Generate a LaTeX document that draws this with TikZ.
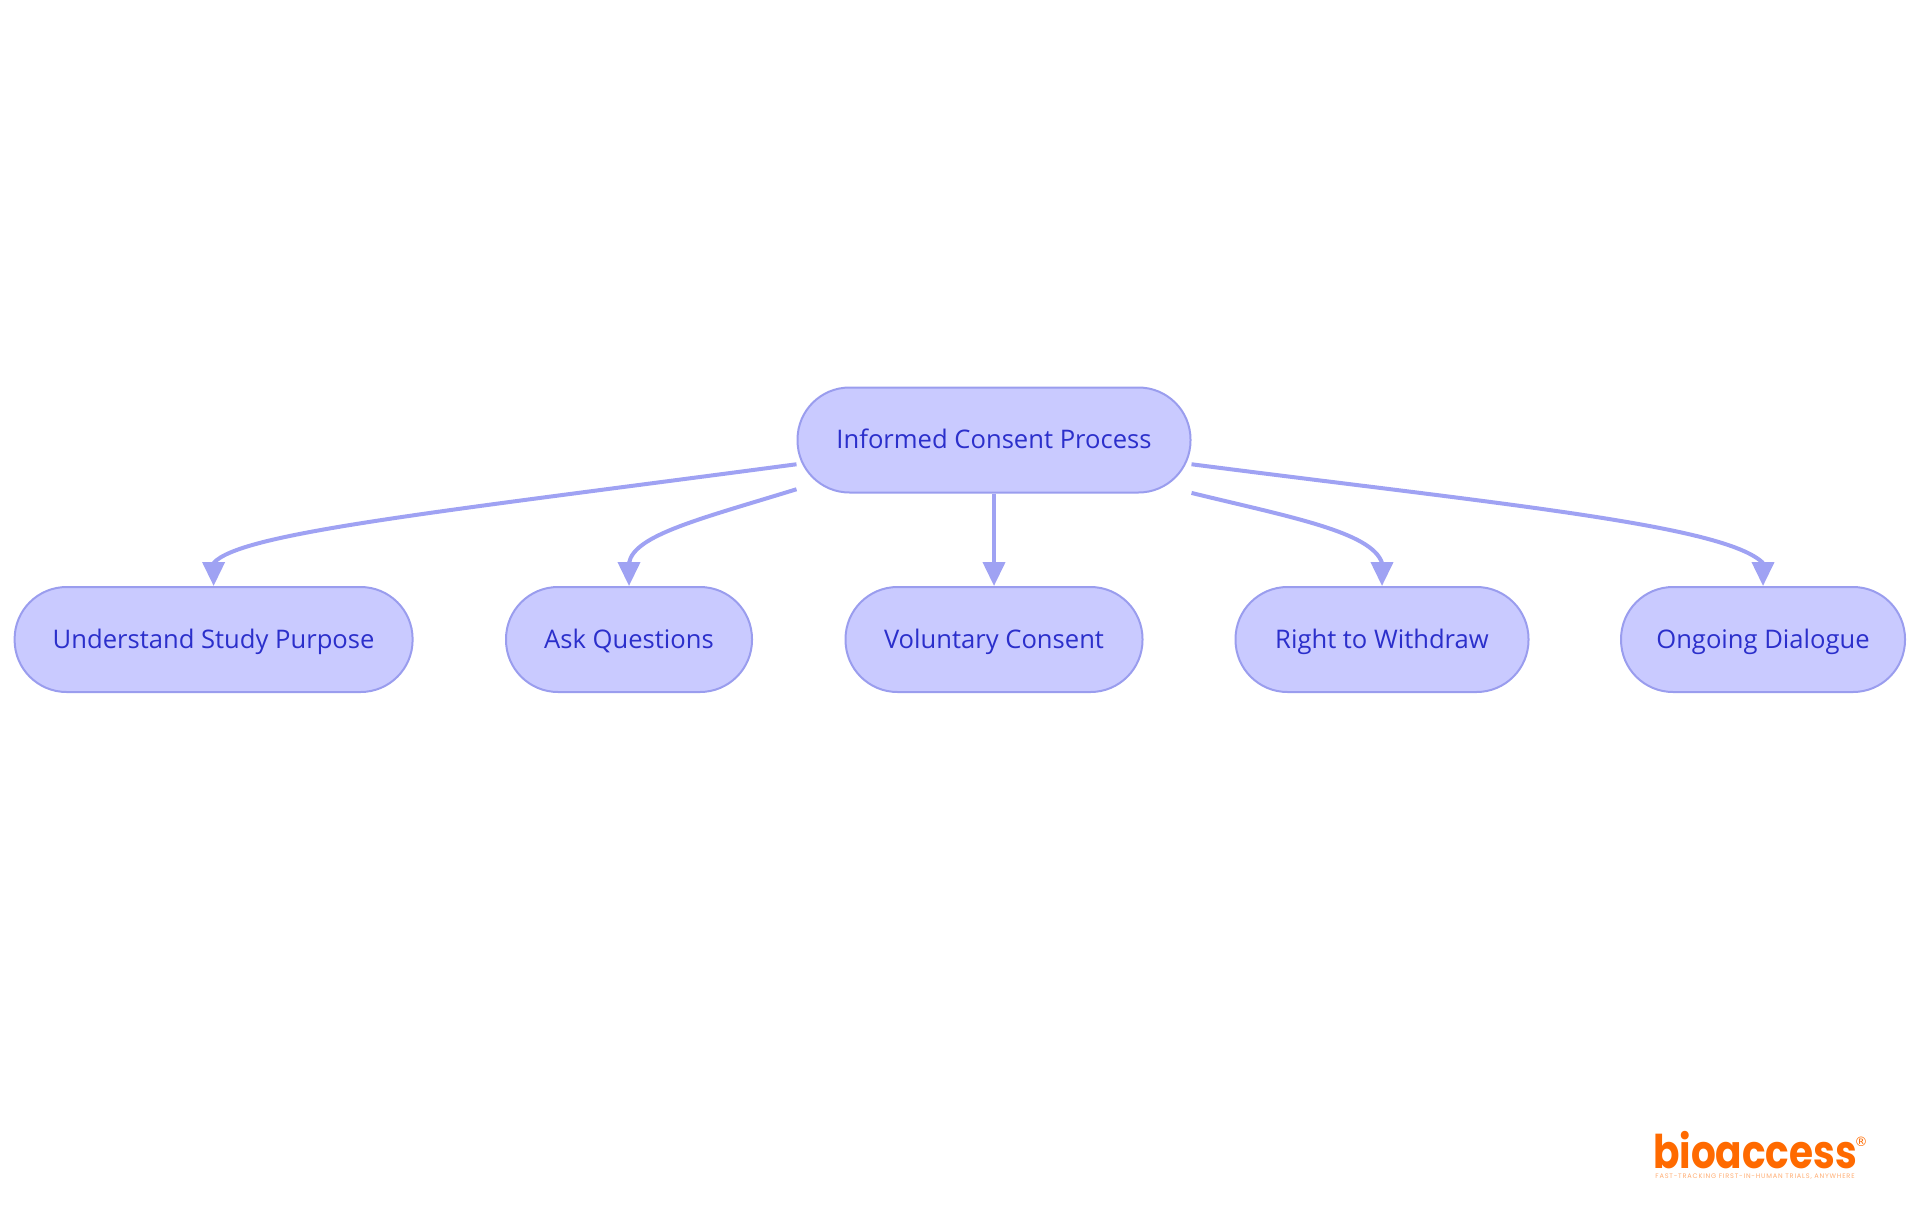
\documentclass[tikz,border=0pt]{standalone}
\usepackage{fontspec}
\setmainfont{Open Sans}
\newfontfamily\logofont{Poppins}
\newfontfamily\regfont{DejaVu Sans}
\usetikzlibrary{arrows.meta}
\definecolor{pillfill}{HTML}{C9CAFF}
\definecolor{pilldraw}{HTML}{9A9DEE}
\definecolor{pilltext}{HTML}{2B2FCB}
\definecolor{edgecol}{HTML}{9FA2F3}
\definecolor{logocol}{HTML}{FF6A00}

\begin{document}
\begin{tikzpicture}[x=0.5pt,y=-0.5pt,
	pill/.style={draw=pilldraw,fill=pillfill,text=pilltext,line width=1pt,rounded corners=26pt,
		minimum height=52.5pt,inner sep=0pt,text height=10.5pt,text depth=2pt,font=\fontsize{12.8}{14}\selectfont},
	flow/.style={draw=edgecol,line width=2pt,arrows={-Triangle[length=12pt,width=11pt,color=edgecol]}}]
	\useasboundingbox (0,0) rectangle (1920,1215);
	\node[pill,minimum width=196.5pt] (root) at (994,440) {Informed Consent Process};
	\node[pill,minimum width=199pt] (purpose) at (213.6,639.5) {Understand Study Purpose};
	\node[pill,minimum width=123pt] (ask) at (629,639.5) {Ask Questions};
	\node[pill,minimum width=148.5pt] (voluntary) at (994,639.5) {Voluntary Consent};
	\node[pill,minimum width=146.5pt] (withdraw) at (1382,639.5) {Right to Withdraw};
	\node[pill,minimum width=142pt] (dialogue) at (1763,639.5) {Ongoing Dialogue};
	\draw[flow] (root.187.3) .. controls (430,513) and (240,533) .. (213.6,563) -- (purpose.north);
	\draw[flow] (root.194.7) .. controls (700,519) and (634,535) .. (629,563) -- (ask.north);
	\draw[flow] (root.south) -- (voluntary.north);
	\draw[flow] (root.345.3) .. controls (1290,517) and (1372,532) .. (1382,563) -- (withdraw.north);
	\draw[flow] (root.-7.3) .. controls (1500,504) and (1725,525) .. (1763,563) -- (dialogue.north);
	% logo
	\node[anchor=base,text=logocol,inner sep=0pt,font=\logofont\bfseries\fontsize{23.2}{25}\selectfont] (logo) at (1755,1168) {\scalebox{0.84}[1]{bioaccess}};
	\node[text=logocol,inner sep=0pt,font=\regfont\fontsize{6.5}{7}\selectfont] (reg) at (1861,1142) {®};
	\node[text=logocol!55,inner sep=0pt,font=\logofont\fontsize{3.3}{4}\selectfont] (tagline) at (1755,1177) {\addfontfeature{LetterSpace=12}FAST-TRACKING FIRST-IN-HUMAN TRIALS, ANYWHERE};
\end{tikzpicture}
\end{document}
